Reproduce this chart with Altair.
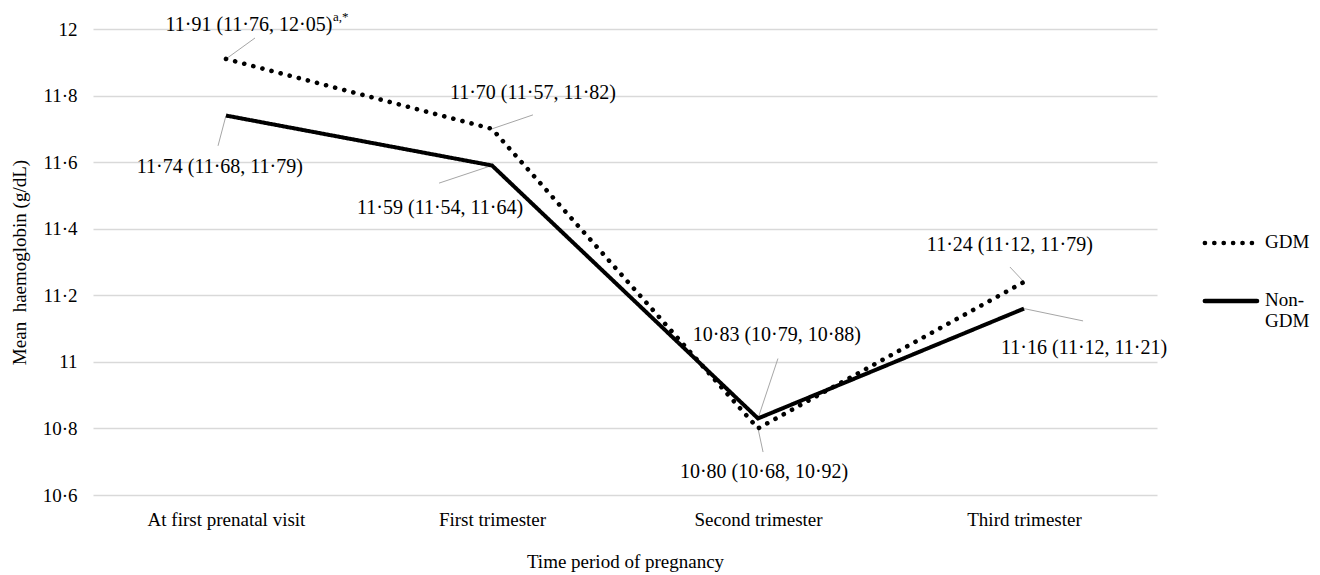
import json
import altair as alt
import pandas as pd

categories = ["At first prenatal visit", "First trimester", "Second trimester", "Third trimester"]
series = ["GDM", "Non-GDM"]
gdm_mean = [11.91, 11.70, 10.80, 11.24]
non_gdm_mean = [11.74, 11.59, 10.83, 11.16]
gdm_labels = ["11·91 (11·76, 12·05)", "11·70 (11·57, 11·82)", "10·80 (10·68, 10·92)", "11·24 (11·12, 11·79)"]
non_gdm_labels = ["11·74 (11·68, 11·79)", "11·59 (11·54, 11·64)", "10·83 (10·79, 10·88)", "11·16 (11·12, 11·21)"]
first_label_superscript = "a,*"
y_ticks = [10.6, 10.8, 11.0, 11.2, 11.4, 11.6, 11.8, 12.0]

# annotation anchors, in data units (category index, g/dL)
gdm_leader_x = [0.109, 1.154, 2.019, 2.947]
gdm_leader_y = [11.973, 11.742, 10.729, 11.285]
gdm_text_x = [0.086, 1.154, 2.023, 2.947]
gdm_text_y = [12.012, 11.808, 10.669, 11.351]
non_leader_x = [-0.030, 0.801, 2.075, 3.222]
non_leader_y = [11.649, 11.537, 11.010, 11.123]
non_text_x = [-0.023, 0.805, 2.071, 3.226]
non_text_y = [11.585, 11.462, 11.081, 11.042]

# manual legend anchors, in data units
legend_sym_x = [3.680, 3.680]
legend_sym_x2 = [3.876, 3.876]
legend_text_x = [3.906, 3.906]
legend_y = [11.357, 11.183]

idx = list(range(len(categories)))
gdm_df = pd.DataFrame({"idx": idx, "value": gdm_mean, "series": series[0]})
non_df = pd.DataFrame({"idx": idx, "value": non_gdm_mean, "series": series[1]})

ann_df = pd.DataFrame({
    "x": idx + idx,
    "y": gdm_mean + non_gdm_mean,
    "lx": gdm_leader_x + non_leader_x,
    "ly": gdm_leader_y + non_leader_y,
    "tx": gdm_text_x + non_text_x,
    "ty": gdm_text_y + non_text_y,
    "text": gdm_labels + non_gdm_labels,
})
sup_df = pd.DataFrame({"tx": [gdm_text_x[0]], "ty": [gdm_text_y[0]], "text": [first_label_superscript]})
leg_df = pd.DataFrame({"series": series, "x": legend_sym_x, "x2": legend_sym_x2,
                       "tx": legend_text_x, "y": legend_y})

FONT = "Liberation Serif"
x_scale = alt.Scale(domain=[-0.5, 3.5], nice=False, zero=False)
y_scale = alt.Scale(domain=[10.6, 12.0], nice=False, zero=False)

x_axis = alt.Axis(
    values=idx,
    labelExpr=json.dumps(categories) + "[datum.value]",
    title="Time period of pregnancy",
    grid=False, ticks=False, domain=False,
    labelFontSize=19, titleFontSize=19, labelPadding=15,
    titleY=66, titleBaseline="middle", titleFontWeight="normal",
    labelColor="black", titleColor="black", labelFont=FONT, titleFont=FONT,
)
y_axis = alt.Axis(
    values=y_ticks,
    labelExpr="replace(toString(round(datum.value*10)/10), '.', '·')",
    title="Mean\u00a0\u00a0haemoglobin (g/dL)",
    grid=True, gridColor="#d9d9d9", gridWidth=1.3,
    ticks=False, domain=False,
    labelFontSize=19, titleFontSize=19, labelPadding=16,
    titleX=-74, titleY=233, titleAngle=-90, titleAlign="center", titleBaseline="middle",
    titleFontWeight="normal",
    labelColor="black", titleColor="black", labelFont=FONT, titleFont=FONT,
)

dash_scale = alt.Scale(domain=series, range=[[0.1, 9.3], [1, 0]])

gdm_line = alt.Chart(gdm_df).mark_line(color="black", strokeWidth=4.6, strokeCap="round").encode(
    x=alt.X("idx:Q", scale=x_scale, axis=x_axis),
    y=alt.Y("value:Q", scale=y_scale, axis=y_axis),
    strokeDash=alt.StrokeDash("series:N", scale=dash_scale, legend=None),
)
non_line = alt.Chart(non_df).mark_line(color="black", strokeWidth=4, strokeCap="butt", strokeJoin="miter").encode(
    x=alt.X("idx:Q", scale=x_scale), y=alt.Y("value:Q", scale=y_scale),
    strokeDash=alt.StrokeDash("series:N", scale=dash_scale, legend=None),
)

leaders = alt.Chart(ann_df).mark_rule(color="#a6a6a6", strokeWidth=1).encode(
    x=alt.X("x:Q", scale=x_scale), y=alt.Y("y:Q", scale=y_scale),
    x2="lx:Q", y2="ly:Q",
)
labels = alt.Chart(ann_df).mark_text(font=FONT, fontSize=20, color="black", align="center", baseline="middle").encode(
    x=alt.X("tx:Q", scale=x_scale), y=alt.Y("ty:Q", scale=y_scale), text="text:N",
)
sup = alt.Chart(sup_df).mark_text(font=FONT, fontSize=13, color="black", align="left", baseline="middle", dx=84, dy=-8).encode(
    x=alt.X("tx:Q", scale=x_scale), y=alt.Y("ty:Q", scale=y_scale), text="text:N",
)

leg_sym = alt.Chart(leg_df).mark_rule(color="black", strokeWidth=4.6, strokeCap="round").encode(
    x=alt.X("x:Q", scale=x_scale), x2="x2:Q", y=alt.Y("y:Q", scale=y_scale),
    strokeDash=alt.StrokeDash("series:N", scale=dash_scale, legend=None),
)
leg_text = alt.Chart(leg_df).transform_calculate(
    lab="replace(datum.series, '-', '-\\n')"
).mark_text(font=FONT, fontSize=19, color="black", align="left", baseline="top", dy=-10, lineBreak="\n").encode(
    x=alt.X("tx:Q", scale=x_scale), y=alt.Y("y:Q", scale=y_scale), text="lab:N",
)

chart = alt.layer(leaders, gdm_line, non_line, labels, sup, leg_sym, leg_text).properties(
    width=1064, height=466,
    autosize=alt.AutoSizeParams(type="none"),
    padding={"left": 85, "top": 21, "right": 155, "bottom": 80},
).configure(font=FONT).configure_view(stroke=None)

chart.save("out.html", embed_options={"renderer": "svg", "actions": False})
